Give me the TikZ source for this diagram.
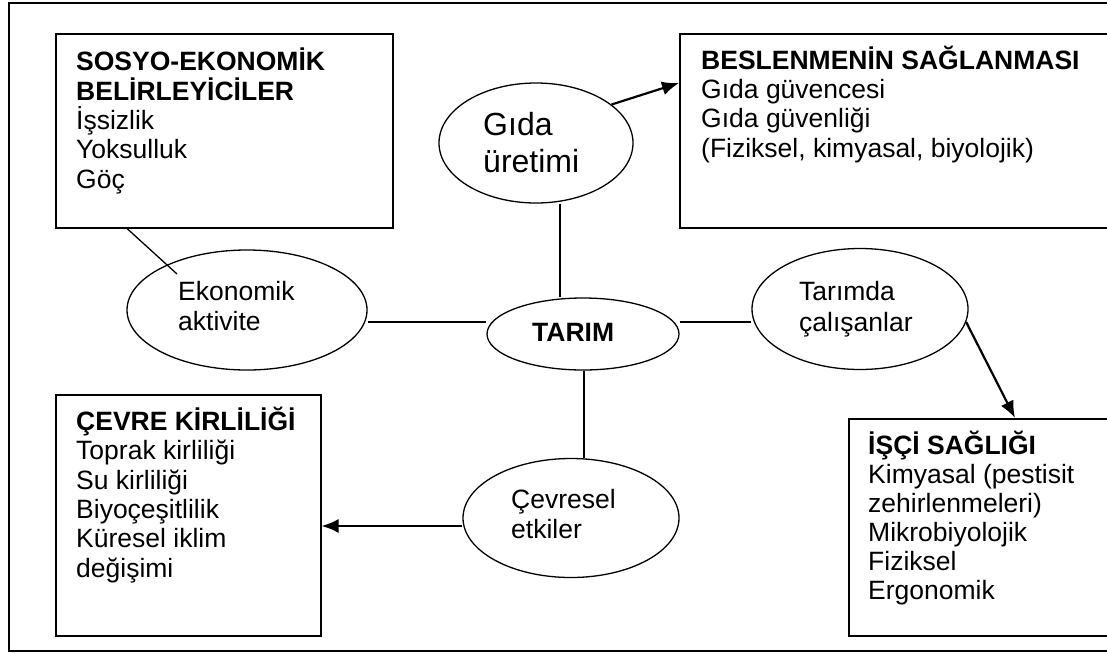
\documentclass[tikz,border=0pt]{standalone}
\usepackage{fontspec}
\setmainfont{Liberation Sans}
\usetikzlibrary{shapes.geometric,arrows.meta}
\begin{document}
\begin{tikzpicture}[x=1pt,y=-1pt,
  boxnode/.style={draw,line width=1.5pt,rectangle,anchor=north west,inner sep=0pt},
  ell/.style={draw,line width=1.3pt,ellipse,inner sep=0pt},
  txt/.style={anchor=base west,inner sep=0pt,align=left,font=\fontsize{26.5}{29.3}\selectfont},
  conn/.style={line width=1.3pt},
  arr/.style={line width=2.2pt,-{Latex[length=17pt,width=14pt]}}]
\useasboundingbox (0,0) rectangle (1107,653);
\clip (0,0) rectangle (1107,653);
% outer frame
\node[draw,line width=2pt,rectangle,anchor=north west,inner sep=0pt,minimum width=1107pt,minimum height=648pt] (frame) at (8,2) {};
% boxes
\node[boxnode,minimum width=337pt,minimum height=194pt] (sosyo) at (55,33) {};
\node[boxnode,minimum width=433pt,minimum height=194pt] (besl) at (679,33) {};
\node[boxnode,minimum width=265pt,minimum height=241pt] (cevre) at (55,394) {};
\node[boxnode,minimum width=264pt,minimum height=217pt] (isci) at (848,418) {};
% box texts (anchor = baseline of last line)
\node[txt] (sosyotxt) at (76,188) {\textbf{SOSYO-EKONOMİK}\\\textbf{BELİRLEYİCİLER}\\İşsizlik\\Yoksulluk\\Göç};
\node[txt] (besltxt) at (701,157) {\textbf{BESLENMENİN SAĞLANMASI}\\Gıda güvencesi\\Gıda güvenliği\\(Fiziksel, kimyasal, biyolojik)};
\node[txt] (cevretxt) at (76,577) {\textbf{ÇEVRE KİRLİLİĞİ}\\Toprak kirliliği\\Su kirliliği\\Biyoçeşitlilik\\Küresel iklim\\değişimi};
\node[txt,font=\fontsize{26.5}{29}\selectfont] (iscitxt) at (868,599) {\textbf{İŞÇİ SAĞLIĞI}\\Kimyasal (pestisit\\zehirlenmeleri)\\Mikrobiyolojik\\Fiziksel\\Ergonomik};
% ellipses
\node[ell,minimum width=194pt,minimum height=120pt] (gida) at (536,143) {};
\node[ell,minimum width=192pt,minimum height=72pt] (tarim) at (583,334) {};
\node[ell,minimum width=240pt,minimum height=120pt] (eko) at (247,310) {};
\node[ell,minimum width=216pt,minimum height=121pt] (tar) at (860,309) {};
\node[ell,minimum width=216pt,minimum height=119pt] (cev) at (571,518) {};
% ellipse texts
\node[txt,font=\fontsize{32}{37}\selectfont] (gidatxt) at (483,172) {Gıda\\üretimi};
\node[txt,font=\fontsize{26.5}{30}\selectfont\bfseries] (tarimtxt) at (532,341) {TARIM};
\node[txt,font=\fontsize{26.5}{30}\selectfont] (ekotxt) at (178,330) {Ekonomik\\aktivite};
\node[txt,font=\fontsize{26.5}{31}\selectfont] (tartxt) at (799,331) {Tarımda\\çalışanlar};
\node[txt,font=\fontsize{26.5}{30}\selectfont] (cevtxt) at (511,538) {Çevresel\\etkiler};
% helper coordinates
\coordinate (xs) at (127,0);
\coordinate (e1) at (177,274);
\coordinate (xg) at (560,0);
\coordinate (xc) at (584,0);
\coordinate (yh) at (0,322);
\coordinate (ya) at (0,526);
\coordinate (xi) at (1015,0);
% connectors
\draw[conn] (sosyo.south -| xs) -- (e1);
\draw[conn] (gida.south -| xg) -- (tarim.north -| xg);
\draw[conn] (eko.east |- yh) -- (tarim.west |- yh);
\draw[conn] (tarim.east |- yh) -- (tar.west |- yh);
\draw[conn] (tarim.south -| xc) -- (cev.north -| xc);
\draw[arr] (gida.27) -- (besl.west |- 0,83);
\draw[arr] (tar.-7) -- (isci.north -| xi);
\draw[arr] (cev.west |- ya) -- (cevre.east |- ya);
\end{tikzpicture}
\end{document}
